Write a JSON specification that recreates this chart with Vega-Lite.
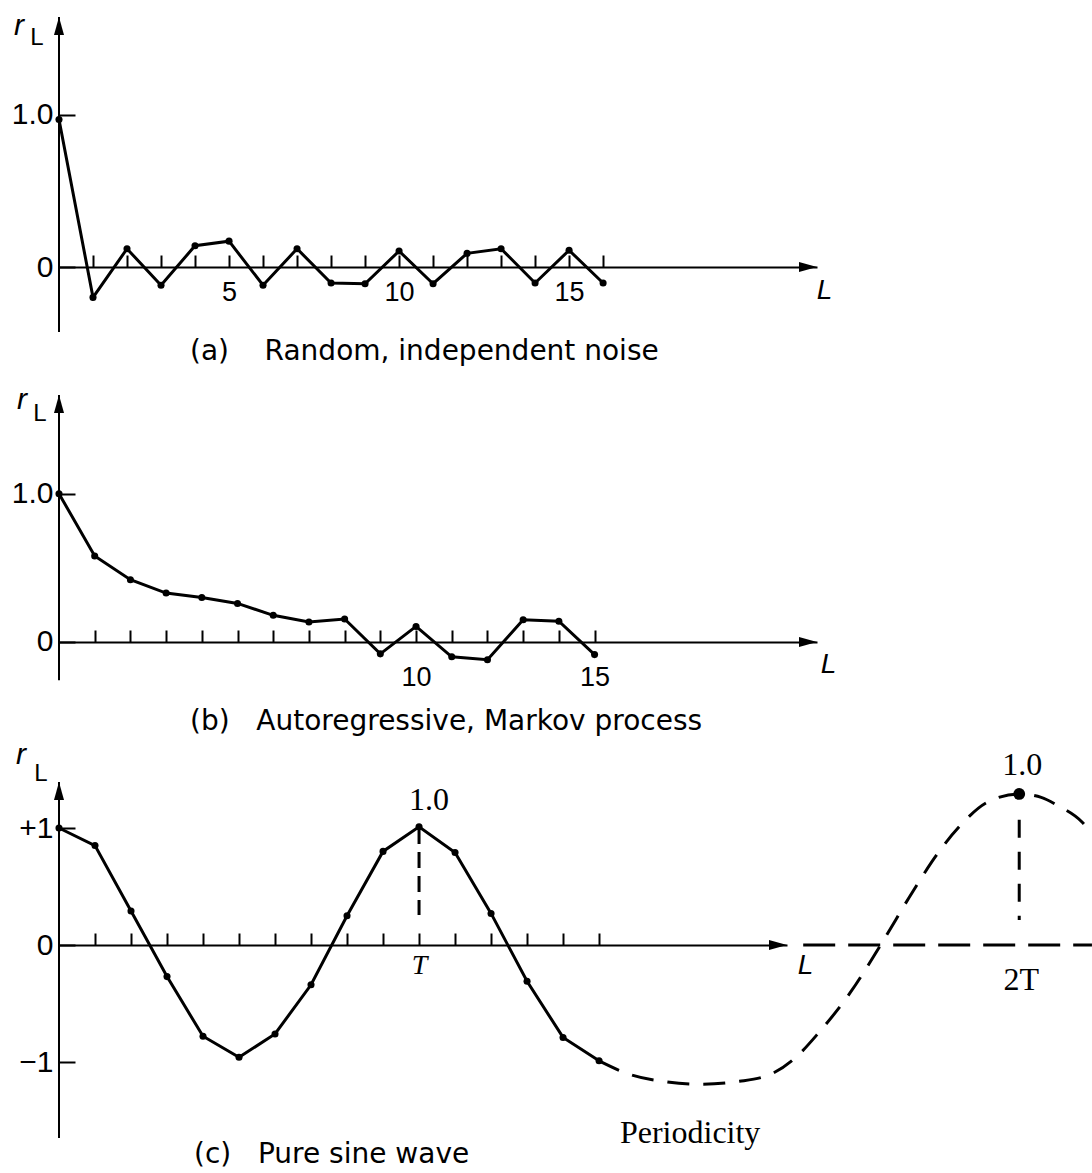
{
  "$schema": "https://vega.github.io/schema/vega-lite/v6.json",
  "background": "white",
  "padding": {"left": 11, "top": 11, "right": 0, "bottom": 0},
  "config": {
    "view": {"stroke": null},
    "axis": {"grid": false, "domainColor": "black", "domainWidth": 2, "tickColor": "black", "tickWidth": 2, "labelColor": "black", "labelFont": "Liberation Sans", "titleColor": "black", "labelOverlap": false, "labelFlush": false}
  },
  "datasets": {
    "noise": [
      {"L": 0, "r": 0.97}, {"L": 1, "r": -0.2}, {"L": 2, "r": 0.12}, {"L": 3, "r": -0.12}, {"L": 4, "r": 0.14},
      {"L": 5, "r": 0.17}, {"L": 6, "r": -0.12}, {"L": 7, "r": 0.12}, {"L": 8, "r": -0.105}, {"L": 9, "r": -0.11},
      {"L": 10, "r": 0.105}, {"L": 11, "r": -0.11}, {"L": 12, "r": 0.09}, {"L": 13, "r": 0.12}, {"L": 14, "r": -0.105},
      {"L": 15, "r": 0.11}, {"L": 16, "r": -0.105}
    ],
    "markov": [
      {"L": 0, "r": 1.0}, {"L": 1, "r": 0.58}, {"L": 2, "r": 0.42}, {"L": 3, "r": 0.33}, {"L": 4, "r": 0.3},
      {"L": 5, "r": 0.26}, {"L": 6, "r": 0.18}, {"L": 7, "r": 0.135}, {"L": 8, "r": 0.155}, {"L": 9, "r": -0.08},
      {"L": 10, "r": 0.105}, {"L": 11, "r": -0.1}, {"L": 12, "r": -0.12}, {"L": 13, "r": 0.15}, {"L": 14, "r": 0.14},
      {"L": 15, "r": -0.085}
    ],
    "sine": [
      {"L": 0, "r": 1.0}, {"L": 1, "r": 0.85}, {"L": 2, "r": 0.29}, {"L": 3, "r": -0.27}, {"L": 4, "r": -0.78},
      {"L": 5, "r": -0.96}, {"L": 6, "r": -0.76}, {"L": 7, "r": -0.34}, {"L": 8, "r": 0.25}, {"L": 9, "r": 0.8},
      {"L": 10, "r": 1.01}, {"L": 11, "r": 0.79}, {"L": 12, "r": 0.27}, {"L": 13, "r": -0.31}, {"L": 14, "r": -0.79},
      {"L": 15, "r": -0.99}
    ],
    "sine_cont": [
      {"L": 15, "r": -0.99}, {"L": 15.89, "r": -1.11}, {"L": 16.9, "r": -1.17}, {"L": 17.8, "r": -1.19},
      {"L": 18.9, "r": -1.165}, {"L": 19.8, "r": -1.1}, {"L": 20.5, "r": -0.95}, {"L": 21.1, "r": -0.75},
      {"L": 21.97, "r": -0.41}, {"L": 22.86, "r": 0.02}, {"L": 23.72, "r": 0.46}, {"L": 24.4, "r": 0.78},
      {"L": 25.03, "r": 1.02}, {"L": 25.78, "r": 1.22}, {"L": 26.67, "r": 1.291}, {"L": 27.28, "r": 1.262},
      {"L": 27.75, "r": 1.19}, {"L": 28.42, "r": 1.049}, {"L": 28.69, "r": 0.95}
    ]
  },
  "spacing": 20,
  "bounds": "flush",
  "vconcat": [
    {
      "width": 758,
      "height": 358,
      "data": {"name": "noise"},
      "layer": [
        {
          "mark": {"type": "line", "color": "black", "strokeWidth": 3, "point": {"filled": true, "size": 50, "color": "black"}},
          "encoding": {
            "x": {"field": "L", "type": "quantitative", "scale": {"domain": [0, 22.29], "nice": false, "zero": false},
              "axis": {"orient": "bottom", "offset": -108, "values": [1,2,3,4,5,6,7,8,9,10,11,12,13,14,15,16], "tickSize": -12,
                "labelExpr": "datum.value % 5 == 0 ? datum.label : ''", "labelFontSize": 27, "labelBaseline": "middle", "labelPadding": 37,
                "title": "L", "titleX": 765, "titleY": 23, "titleFont": "Liberation Sans", "titleFontStyle": "italic", "titleFontSize": 28, "titleFontWeight": "normal", "titleAlign": "center", "titleBaseline": "middle"}},
            "y": {"field": "r", "type": "quantitative", "scale": {"domain": [-0.7105, 1.6447], "nice": false, "zero": false},
              "axis": {"domain": false, "values": [0, 1], "labelExpr": "datum.value == 0 ? '0' : '1.0'", "tickSize": -16, "labelPadding": 22, "labelFontSize": 30, "title": null}}
          }
        },
        {
          "data": {"values": [{}]},
          "mark": {"type": "rule", "color": "black", "strokeWidth": 2},
          "encoding": {"x": {"datum": 0}, "y": {"datum": -0.428}, "y2": {"datum": 1.6447}}
        },
        {
          "data": {"values": [{}]},
          "mark": {"type": "point", "shape": "M0,0L-1,3.6L1,3.6Z", "filled": true, "size": 100, "color": "black", "opacity": 1},
          "encoding": {"x": {"datum": 0}, "y": {"datum": 1.6447}}
        },
        {
          "data": {"values": [{}]},
          "mark": {"type": "point", "shape": "M0,0L-3.6,-1L-3.6,1Z", "filled": true, "size": 100, "color": "black", "opacity": 1},
          "encoding": {"x": {"datum": 22.29}, "y": {"datum": 0}}
        },
        {
          "data": {"values": [{}]},
          "mark": {"type": "text", "text": "r", "font": "Liberation Sans", "fontStyle": "italic", "fontSize": 30, "dx": -40, "dy": 9, "align": "center", "baseline": "middle", "color": "black"},
          "encoding": {"x": {"datum": 0}, "y": {"datum": 1.6447}}
        },
        {
          "data": {"values": [{}]},
          "mark": {"type": "text", "text": "L", "font": "Liberation Sans", "fontSize": 24, "dx": -22, "dy": 21, "align": "center", "baseline": "middle", "color": "black"},
          "encoding": {"x": {"datum": 0}, "y": {"datum": 1.6447}}
        },
        {
          "data": {"values": [{}]},
          "mark": {"type": "text", "text": "(a)\u00a0\u00a0\u00a0\u00a0Random, independent noise", "font": "DejaVu Sans", "fontSize": 28, "dx": 131, "dy": 20, "align": "left", "baseline": "middle", "color": "black"},
          "encoding": {"x": {"datum": 0}, "y": {"datum": -0.428}}
        }
      ]
    },
    {
      "width": 758,
      "height": 367,
      "data": {"name": "markov"},
      "layer": [
        {
          "mark": {"type": "line", "color": "black", "strokeWidth": 3, "point": {"filled": true, "size": 50, "color": "black"}},
          "encoding": {
            "x": {"field": "L", "type": "quantitative", "scale": {"domain": [0, 21.23], "nice": false, "zero": false},
              "axis": {"orient": "bottom", "offset": -120, "values": [1,2,3,4,5,6,7,8,9,10,11,12,13,14,15], "tickSize": -12,
                "labelExpr": "datum.value == 10 || datum.value == 15 ? datum.label : ''", "labelFontSize": 27, "labelBaseline": "middle", "labelPadding": 47,
                "title": "L", "titleX": 769, "titleY": 22, "titleFont": "Liberation Sans", "titleFontStyle": "italic", "titleFontSize": 28, "titleFontWeight": "normal", "titleAlign": "center", "titleBaseline": "middle"}},
            "y": {"field": "r", "type": "quantitative", "scale": {"domain": [-0.8092, 1.6655], "nice": false, "zero": false},
              "axis": {"domain": false, "values": [0, 1], "labelExpr": "datum.value == 0 ? '0' : '1.0'", "tickSize": -16, "labelPadding": 22, "labelFontSize": 30, "title": null}}
          }
        },
        {
          "data": {"values": [{}]},
          "mark": {"type": "rule", "color": "black", "strokeWidth": 2},
          "encoding": {"x": {"datum": 0}, "y": {"datum": -0.258}, "y2": {"datum": 1.6655}}
        },
        {
          "data": {"values": [{}]},
          "mark": {"type": "point", "shape": "M0,0L-1,3.6L1,3.6Z", "filled": true, "size": 100, "color": "black", "opacity": 1},
          "encoding": {"x": {"datum": 0}, "y": {"datum": 1.6655}}
        },
        {
          "data": {"values": [{}]},
          "mark": {"type": "point", "shape": "M0,0L-3.6,-1L-3.6,1Z", "filled": true, "size": 100, "color": "black", "opacity": 1},
          "encoding": {"x": {"datum": 21.23}, "y": {"datum": 0}}
        },
        {
          "data": {"values": [{}]},
          "mark": {"type": "text", "text": "r", "font": "Liberation Sans", "fontStyle": "italic", "fontSize": 30, "dx": -37, "dy": 5, "align": "center", "baseline": "middle", "color": "black"},
          "encoding": {"x": {"datum": 0}, "y": {"datum": 1.6655}}
        },
        {
          "data": {"values": [{}]},
          "mark": {"type": "text", "text": "L", "font": "Liberation Sans", "fontSize": 24, "dx": -19, "dy": 19, "align": "center", "baseline": "middle", "color": "black"},
          "encoding": {"x": {"datum": 0}, "y": {"datum": 1.6655}}
        },
        {
          "data": {"values": [{}]},
          "mark": {"type": "text", "text": "(b)\u00a0\u00a0\u00a0Autoregressive, Markov process", "font": "DejaVu Sans", "fontSize": 28, "dx": 131, "dy": 42, "align": "left", "baseline": "middle", "color": "black"},
          "encoding": {"x": {"datum": 0}, "y": {"datum": -0.258}}
        }
      ]
    },
    {
      "width": 728,
      "height": 368,
      "layer": [
        {
          "data": {"name": "sine"},
          "mark": {"type": "line", "color": "black", "strokeWidth": 3, "point": {"filled": true, "size": 50, "color": "black"}},
          "encoding": {
            "x": {"field": "L", "type": "quantitative", "scale": {"domain": [0, 20.22], "nice": false, "zero": false},
              "axis": {"orient": "bottom", "offset": -205, "values": [1,2,3,4,5,6,7,8,9,10,11,12,13,14,15], "tickSize": -12,
                "labelExpr": "datum.value == 10 ? 'T' : ''", "labelFont": "Liberation Serif", "labelFontStyle": "italic", "labelFontSize": 28, "labelBaseline": "middle", "labelPadding": 32,
                "title": "L", "titleX": 746, "titleY": 20, "titleFont": "Liberation Sans", "titleFontStyle": "italic", "titleFontSize": 28, "titleFontWeight": "normal", "titleAlign": "center", "titleBaseline": "middle"}},
            "y": {"field": "r", "type": "quantitative", "scale": {"domain": [-1.7521, 1.3932], "nice": false, "zero": false},
              "axis": {"domain": false, "values": [-1, 0, 1], "labelExpr": "datum.value == 1 ? '+1' : datum.value == -1 ? '\u22121' : '0'", "tickSize": -16, "labelPadding": 22, "labelFontSize": 30, "title": null}}
          }
        },
        {
          "data": {"values": [{}]},
          "mark": {"type": "rule", "color": "black", "strokeWidth": 2},
          "encoding": {"x": {"datum": 0}, "y": {"datum": -1.65}, "y2": {"datum": 1.3932}}
        },
        {
          "data": {"name": "sine_cont"},
          "mark": {"type": "line", "color": "black", "strokeWidth": 3, "strokeDash": [22, 14], "interpolate": "monotone"},
          "encoding": {"x": {"field": "L", "type": "quantitative"}, "y": {"field": "r", "type": "quantitative"}}
        },
        {
          "data": {"values": [{}]},
          "mark": {"type": "rule", "color": "black", "strokeWidth": 3, "strokeDash": [32, 13]},
          "encoding": {"x": {"datum": 20.67}, "x2": {"datum": 28.69}, "y": {"datum": 0}}
        },
        {
          "data": {"values": [{}]},
          "mark": {"type": "rule", "color": "black", "strokeWidth": 3, "strokeDash": [18, 14]},
          "encoding": {"x": {"datum": 26.67}, "y": {"datum": 1.07}, "y2": {"datum": 0.214}}
        },
        {
          "data": {"values": [{}]},
          "mark": {"type": "rule", "color": "black", "strokeWidth": 3, "strokeDash": [16, 8]},
          "encoding": {"x": {"datum": 10}, "y": {"datum": 1.0}, "y2": {"datum": 0.256}}
        },
        {
          "data": {"values": [{}]},
          "mark": {"type": "point", "shape": "circle", "filled": true, "size": 140, "color": "black", "opacity": 1},
          "encoding": {"x": {"datum": 26.67}, "y": {"datum": 1.291}}
        },
        {
          "data": {"values": [{}]},
          "mark": {"type": "point", "shape": "M0,0L-1,3.6L1,3.6Z", "filled": true, "size": 100, "color": "black", "opacity": 1},
          "encoding": {"x": {"datum": 0}, "y": {"datum": 1.3932}}
        },
        {
          "data": {"values": [{}]},
          "mark": {"type": "point", "shape": "M0,0L-3.6,-1L-3.6,1Z", "filled": true, "size": 100, "color": "black", "opacity": 1},
          "encoding": {"x": {"datum": 20.22}, "y": {"datum": 0}}
        },
        {
          "data": {"values": [{}]},
          "mark": {"type": "text", "text": "r", "font": "Liberation Sans", "fontStyle": "italic", "fontSize": 30, "dx": -38, "dy": -27, "align": "center", "baseline": "middle", "color": "black"},
          "encoding": {"x": {"datum": 0}, "y": {"datum": 1.3932}}
        },
        {
          "data": {"values": [{}]},
          "mark": {"type": "text", "text": "L", "font": "Liberation Sans", "fontSize": 24, "dx": -18, "dy": -8, "align": "center", "baseline": "middle", "color": "black"},
          "encoding": {"x": {"datum": 0}, "y": {"datum": 1.3932}}
        },
        {
          "data": {"values": [{}]},
          "mark": {"type": "text", "text": "1.0", "font": "Liberation Serif", "fontSize": 32, "dx": 10, "dy": -27, "align": "center", "baseline": "middle", "color": "black"},
          "encoding": {"x": {"datum": 10}, "y": {"datum": 1.01}}
        },
        {
          "data": {"values": [{}]},
          "mark": {"type": "text", "text": "1.0", "font": "Liberation Serif", "fontSize": 32, "dx": 3, "dy": -29, "align": "center", "baseline": "middle", "color": "black"},
          "encoding": {"x": {"datum": 26.67}, "y": {"datum": 1.291}}
        },
        {
          "data": {"values": [{}]},
          "mark": {"type": "text", "text": "2T", "font": "Liberation Serif", "fontSize": 32, "dx": 2, "dy": 35, "align": "center", "baseline": "middle", "color": "black"},
          "encoding": {"x": {"datum": 26.67}, "y": {"datum": 0}}
        },
        {
          "data": {"values": [{}]},
          "mark": {"type": "text", "text": "Periodicity", "font": "Liberation Serif", "fontSize": 32, "align": "center", "baseline": "middle", "color": "black"},
          "encoding": {"x": {"datum": 17.53}, "y": {"datum": -1.607}}
        },
        {
          "data": {"values": [{}]},
          "mark": {"type": "text", "text": "(c)\u00a0\u00a0\u00a0Pure sine wave", "font": "DejaVu Sans", "fontSize": 28, "dx": 135, "dy": 17, "align": "left", "baseline": "middle", "color": "black"},
          "encoding": {"x": {"datum": 0}, "y": {"datum": -1.65}}
        }
      ]
    }
  ]
}
